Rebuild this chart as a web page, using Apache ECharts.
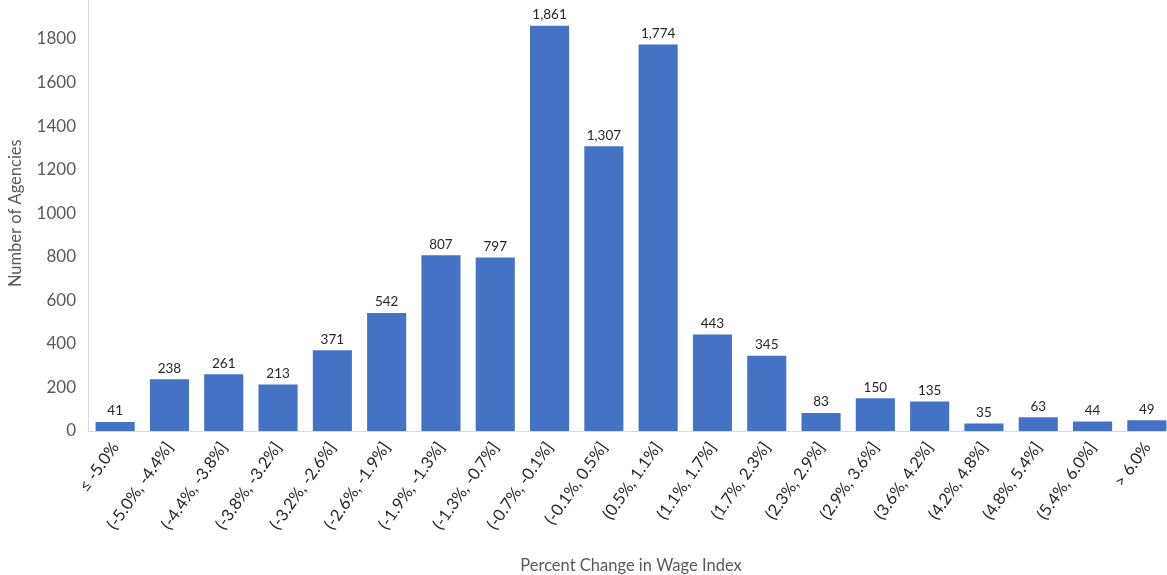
<!DOCTYPE html>
<html><head><meta charset="utf-8">
<script src="https://cdn.jsdelivr.net/npm/echarts@6/dist/echarts.min.js"></script>
<style>html,body{margin:0;padding:0;background:#fff}#c{width:1167px;height:575px}</style>
</head><body><div id="c"></div>
<script>
const categories = ["≤ -5.0%","(-5.0%, -4.4%]","(-4.4%, -3.8%]","(-3.8%, -3.2%]","(-3.2%, -2.6%]","(-2.6%, -1.9%]","(-1.9%, -1.3%]","(-1.3%, -0.7%]","(-0.7%, -0.1%]","(-0.1%, 0.5%]","(0.5%, 1.1%]","(1.1%, 1.7%]","(1.7%, 2.3%]","(2.3%, 2.9%]","(2.9%, 3.6%]","(3.6%, 4.2%]","(4.2%, 4.8%]","(4.8%, 5.4%]","(5.4%, 6.0%]","> 6.0%"];
const agencies = [41,238,261,213,371,542,807,797,1861,1307,1774,443,345,83,150,135,35,63,44,49];
const yTicks = [0,200,400,600,800,1000,1200,1400,1600,1800];

const font = "Lato, 'Open Sans', sans-serif";
const chart = echarts.init(document.getElementById('c'));
chart.setOption({
  animation:false,
  textStyle:{fontFamily:font},
  grid:{left:88,right:-7,top:-4.6,bottom:144,containLabel:false,outerBoundsMode:'none'},
  xAxis:{
    type:'category',data:categories,
    axisLine:{lineStyle:{color:'#d9d9d9',width:1}},
    axisTick:{show:false},
    axisLabel:{rotate:55,interval:0,color:'#262626',fontSize:16.5,fontFamily:font,margin:13},
    name:'Percent Change in Wage Index',nameLocation:'middle',nameGap:126,
    nameTextStyle:{color:'#595959',fontSize:16.5,fontFamily:font}
  },
  yAxis:{
    type:'value',min:0,max:2000,interval:200,
    axisLine:{show:true,lineStyle:{color:'#d9d9d9'}},
    axisTick:{show:false},
    splitLine:{show:false},
    axisLabel:{color:'#595959',fontSize:17,fontFamily:font,margin:12,
      formatter:v=>yTicks.includes(v)?String(v):''},
    name:'Number of Agencies',nameLocation:'middle',nameGap:64,nameRotate:90,
    nameTextStyle:{color:'#595959',fontSize:16.5,fontFamily:font}
  },
  series:[{
    type:'bar',data:agencies,barCategoryGap:'28%',
    itemStyle:{color:'#4472c4'},
    label:{show:true,position:'top',color:'#262626',fontSize:13.5,fontFamily:font,distance:4,
      formatter:p=>p.value.toLocaleString('en-US')}
  }]
});
</script></body></html>
